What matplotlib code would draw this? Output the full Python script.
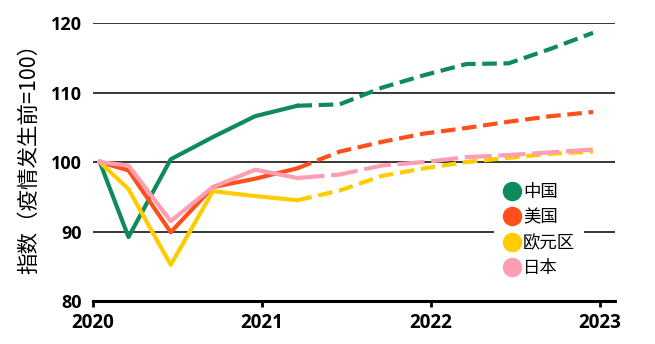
import matplotlib.pyplot as plt
from matplotlib.lines import Line2D

plt.rcParams['font.family'] = ['Noto Sans CJK SC', 'DejaVu Sans']

# 季度位置（年）：实际值到2021年一季度，之后为预测
x_actual = [2020.04, 2020.21, 2020.46, 2020.71, 2020.96, 2021.21]
x_forecast = [2021.21, 2021.46, 2021.71, 2021.96, 2022.21, 2022.46, 2022.71, 2022.96]

china_actual = [100, 89.2, 100.4, 103.6, 106.6, 108.1]
china_forecast = [108.1, 108.3, 110.7, 112.5, 114.1, 114.2, 116.3, 118.6]
us_actual = [100, 98.8, 89.9, 96.4, 97.6, 99.1]
us_forecast = [99.1, 101.5, 102.9, 104.1, 104.9, 105.8, 106.6, 107.2]
euro_actual = [100, 96.1, 85.2, 95.8, 95.1, 94.5]
euro_forecast = [94.5, 95.9, 98.0, 99.1, 100.0, 100.6, 101.2, 101.5]
japan_actual = [100, 99.5, 91.5, 96.4, 98.9, 97.7]
japan_forecast = [97.7, 98.2, 99.5, 100.0, 100.7, 101.0, 101.4, 101.8]

names = ['中国', '美国', '欧元区', '日本']
colors = ['#0f8a5c', '#ff4f1c', '#ffcc00', '#ff9db3']
actual = [china_actual, us_actual, euro_actual, japan_actual]
forecast = [china_forecast, us_forecast, euro_forecast, japan_forecast]
dashes = [(3.5, 1.6), (3.5, 1.6), (3.5, 1.6), (6.5, 1.6)]

years = [2020, 2021, 2022, 2023]
yticks = [80, 90, 100, 110, 120]

fig = plt.figure(figsize=(6.55, 3.44), dpi=100)
ax = fig.add_axes([0.142, 0.125, 0.797, 0.808])

for a, f, c, d in zip(actual, forecast, colors, dashes):
    ax.plot(x_actual, a, color=c, lw=3, clip_on=False, zorder=3)
    ax.plot(x_forecast, f, color=c, lw=3, dashes=d, clip_on=False, zorder=3)

ax.set_xlim(2020, 2023.09)
ax.set_ylim(80, 120)
ax.set_xticks(years)
ax.set_xticklabels([str(y) for y in years], fontfamily='Open Sans', fontweight='bold', fontsize=13.5)
ax.set_yticks(yticks)
ax.set_yticklabels([str(y) for y in yticks], fontfamily='Open Sans', fontweight='bold', fontsize=13)
ax.tick_params(axis='x', length=4.5, width=2, pad=4)
ax.tick_params(axis='y', length=0, pad=8)

for s in ['left', 'right', 'top']:
    ax.spines[s].set_visible(False)
ax.spines['bottom'].set_linewidth(2.2)
ax.yaxis.grid(True, color='black', lw=1.1)
ax.set_axisbelow(True)

ax.set_ylabel('指数（疫情发生前=100）', fontsize=15.5, labelpad=8, y=0.53)

handles = [Line2D([], [], marker='o', ls='none', markersize=13, color=c) for c in colors]
leg = ax.legend(handles, names, loc='center', bbox_to_anchor=(0.823, 0.331),
                bbox_transform=fig.transFigure, prop={'family': 'Noto Sans CJK SC', 'size': 12.5},
                labelspacing=0.42, handletextpad=0.15, handlelength=1.0, borderpad=0.5,
                frameon=True, fancybox=False, framealpha=1, facecolor='white', edgecolor='none')
leg.set_zorder(4)

fig.savefig('out.png', dpi=100)
